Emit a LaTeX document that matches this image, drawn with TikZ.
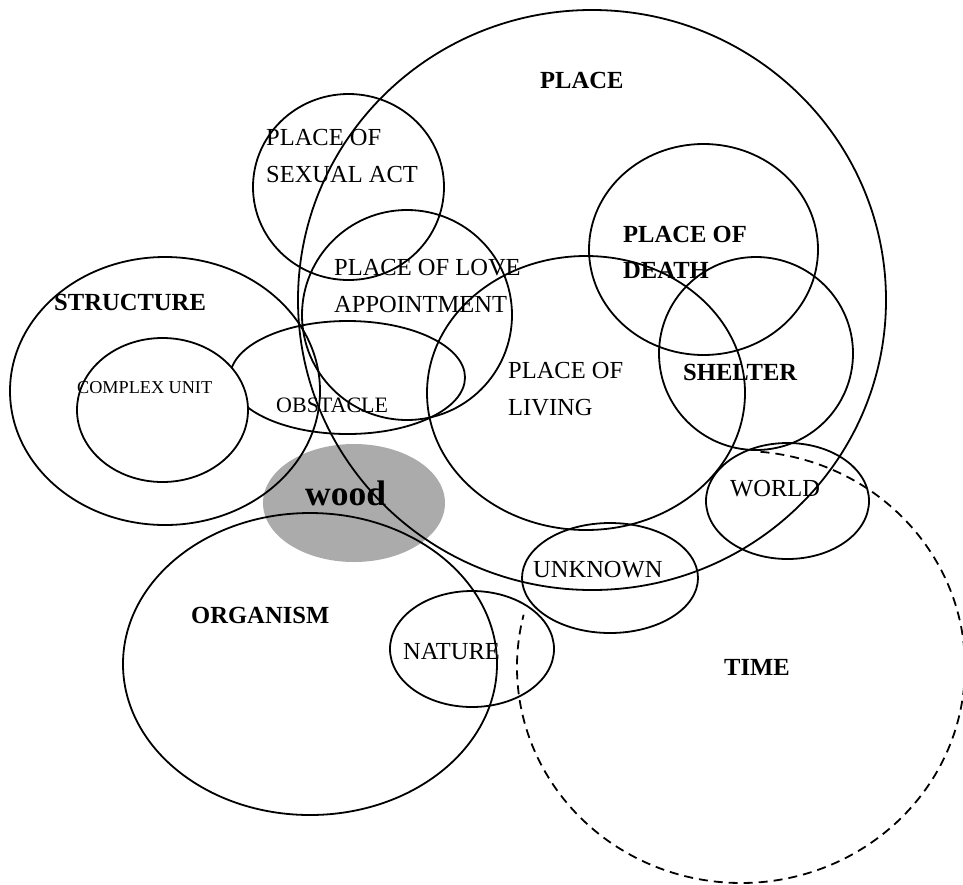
\documentclass[tikz,border=0pt]{standalone}
\usepackage{fontspec}
\setmainfont{Liberation Serif}
\begin{document}
\begin{tikzpicture}[x=1pt,y=-1pt,
  ring/.style={draw=black,line width=1.8pt},
  timering/.style={draw=black,line width=1.8pt,dash pattern=on 9pt off 6pt},
  lab/.style={anchor=base west,inner sep=0pt,font=\fontsize{24.5}{28}\selectfont},
  blab/.style={anchor=base west,inner sep=0pt,font=\fontsize{24.6}{28}\selectfont\bfseries}]
\useasboundingbox (0,0) rectangle (963,884);
% centres
\coordinate (cWood) at (354,503);
\coordinate (cPlace) at (592,300);
\coordinate (cSex) at (348.5,187);
\coordinate (cLove) at (407,315);
\coordinate (cDeath) at (703.5,249.5);
\coordinate (cShelter) at (756,353.5);
\coordinate (cLiving) at (586,393);
\coordinate (cStruct) at (165,391);
\coordinate (cComplex) at (162.5,410);
\coordinate (cObst) at (347.5,377.5);
\coordinate (cOrg) at (310,664);
\coordinate (cNature) at (472,649);
\coordinate (cUnknown) at (610,578);
\coordinate (cWorld) at (787.5,501);
\coordinate (tStart) at (760.5,451.8);
% wood
\fill[black!33] (cWood) ellipse [x radius=91pt, y radius=59pt];
% outlines
\draw[ring] (cPlace) ellipse [x radius=294pt, y radius=290pt];
\draw[ring] (cSex) ellipse [x radius=95.5pt, y radius=93pt];
\draw[ring] (cLove) ellipse [x radius=105pt, y radius=105pt];
\draw[ring] (cDeath) ellipse [x radius=114.5pt, y radius=105.5pt];
\draw[ring] (cShelter) ellipse [x radius=97pt, y radius=96.5pt];
\draw[ring] (cLiving) ellipse [x radius=159pt, y radius=137pt];
\draw[ring] (cStruct) ellipse [x radius=155pt, y radius=134pt];
\draw[ring] (cObst) ellipse [x radius=117.5pt, y radius=56.5pt];
\draw[ring,fill=white] (cComplex) ellipse [x radius=85.5pt, y radius=72pt];
\draw[ring] (cOrg) ellipse [x radius=187pt, y radius=151pt];
\draw[ring] (cNature) ellipse [x radius=82pt, y radius=58pt];
\draw[ring] (cUnknown) ellipse [x radius=88pt, y radius=55pt];
\draw[ring] (cWorld) ellipse [x radius=81.5pt, y radius=58pt];
\draw[timering] (tStart) arc [start angle=85, end angle=-194, x radius=224pt, y radius=216pt];
% labels
\node[blab] (lPlace) at (540,88) {PLACE};
\node[lab] (lSex1) at (266,145.5) {PLACE OF};
\node[lab] (lSex2) at (266,182) {SEXUAL ACT};
\node[lab] (lLove1) at (334,275) {PLACE OF LOVE};
\node[lab] (lLove2) at (334,312) {APPOINTMENT};
\node[blab] (lDeath1) at (623,242) {PLACE OF};
\node[blab] (lDeath2) at (623,278) {DEATH};
\node[blab] (lStruct) at (54,310) {STRUCTURE};
\node[lab,font=\fontsize{18.2}{22}\selectfont] (lComplex) at (77,393) {COMPLEX UNIT};
\node[lab,font=\fontsize{22}{26}\selectfont] (lObst) at (276,412) {OBSTACLE};
\node[lab] (lLiving1) at (508,378) {PLACE OF};
\node[lab] (lLiving2) at (508,415) {LIVING};
\node[blab] (lShelter) at (683,380) {SHELTER};
\node[blab,font=\fontsize{35.5}{40}\selectfont\bfseries] (lWood) at (305,505) {wood};
\node[lab] (lWorld) at (730,496) {WORLD};
\node[lab] (lUnknown) at (533,577) {UNKNOWN};
\node[blab] (lOrg) at (191,623) {ORGANISM};
\node[lab] (lNature) at (403,659) {NATURE};
\node[blab] (lTime) at (724,675) {TIME};
\end{tikzpicture}
\end{document}
